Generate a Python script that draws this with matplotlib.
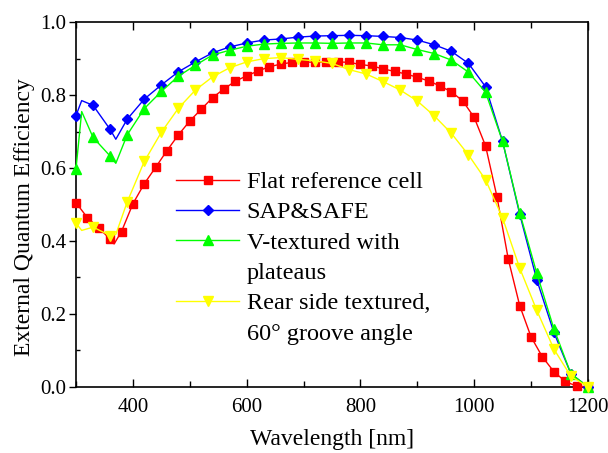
import numpy as np
import matplotlib
matplotlib.use("Agg")
import matplotlib.pyplot as plt
from matplotlib.lines import Line2D
from matplotlib.ticker import MultipleLocator, FormatStrFormatter

plt.rcParams['font.family'] = 'serif'
plt.rcParams['font.serif'] = ['Liberation Serif', 'Times New Roman', 'DejaVu Serif']

# flat reference cell (markers every 20 nm, one extra line point at the dip)
wl_red = [300, 320, 340, 360, 367, 380, 400, 420, 440, 460, 480, 500, 520, 540, 560,
          580, 600, 620, 640, 660, 680, 700, 720, 740, 760, 780, 800, 820, 840,
          860, 880, 900, 920, 940, 960, 980, 1000, 1020, 1040, 1060, 1080, 1100,
          1120, 1140, 1160, 1180, 1200]
eqe_red = [0.505, 0.464, 0.436, 0.405, 0.392, 0.426, 0.502, 0.557, 0.602, 0.648, 0.691,
           0.729, 0.761, 0.793, 0.817, 0.838, 0.853, 0.866, 0.878, 0.885, 0.890,
           0.891, 0.890, 0.891, 0.891, 0.890, 0.884, 0.880, 0.872, 0.865, 0.858,
           0.849, 0.839, 0.825, 0.809, 0.784, 0.739, 0.661, 0.522, 0.350, 0.223,
           0.137, 0.082, 0.042, 0.015, 0.002, 0.0]

# other three cells (markers every 30 nm, extra line points at 310 and 370 nm)
wl_30 = [300, 310, 330, 360, 370, 390, 420, 450, 480, 510, 540, 570, 600, 630, 660,
         690, 720, 750, 780, 810, 840, 870, 900, 930, 960, 990, 1020, 1050, 1080,
         1110, 1140, 1170, 1200]
eqe_blue = [0.744, 0.785, 0.772, 0.706, 0.679, 0.734, 0.789, 0.828, 0.864, 0.891,
            0.916, 0.932, 0.943, 0.951, 0.954, 0.959, 0.962, 0.963, 0.964, 0.963,
            0.961, 0.958, 0.951, 0.938, 0.920, 0.887, 0.823, 0.673, 0.474, 0.294,
            0.150, 0.036, 0.0]
eqe_green = [0.598, 0.755, 0.684, 0.633, 0.613, 0.691, 0.763, 0.810, 0.852, 0.882,
             0.910, 0.923, 0.934, 0.940, 0.942, 0.943, 0.943, 0.942, 0.943, 0.943,
             0.938, 0.938, 0.925, 0.914, 0.896, 0.863, 0.808, 0.673, 0.478, 0.312,
             0.160, 0.036, 0.0]
eqe_yellow = [0.449, 0.429, 0.438, 0.415, 0.418, 0.507, 0.618, 0.698, 0.764, 0.814,
              0.850, 0.875, 0.891, 0.900, 0.903, 0.898, 0.894, 0.887, 0.870, 0.858,
              0.837, 0.814, 0.784, 0.743, 0.695, 0.636, 0.568, 0.463, 0.326, 0.210,
              0.104, 0.029, 0.0]

labels = ["Flat reference cell", "SAP&SAFE", "V-textured with", "Rear side textured,"]
second_lines = ["plateaus", "60\u00b0 groove angle"]

mark_red = [i for i, w in enumerate(wl_red) if w % 20 == 0]
mark_30 = [i for i, w in enumerate(wl_30) if (w - 300) % 30 == 0]

styles = [('#ff0000', 's', 6), ('#0000ff', 'D', 5.5), ('#00ff00', '^', 6.5), ('#ffff00', 'v', 6.5)]
series = [(wl_red, eqe_red, mark_red), (wl_30, eqe_blue, mark_30),
          (wl_30, eqe_green, mark_30), (wl_30, eqe_yellow, mark_30)]

fig = plt.figure(figsize=(6.08, 4.53), dpi=100)
ax = fig.add_axes([0.125, 0.146, 0.842, 0.805])

proxies = []
for (x, y, me), (c, m, ms) in zip(series, styles):
    ax.plot(x, y, color=c, marker=m, ms=ms, markevery=me, lw=1.0, clip_on=False, zorder=3)
    proxies.append(Line2D([], [], color=c, marker=m, ms=ms, lw=1.0))

# blank handles give the second line of the two long labels its own row
blank = Line2D([], [], lw=0, marker=None)
handles = [proxies[0], proxies[1], proxies[2], blank, proxies[3], blank]
texts = [labels[0], labels[1], labels[2], second_lines[0], labels[3], second_lines[1]]
ax.legend(handles, texts, loc='upper left', bbox_to_anchor=(0.172, 0.625),
          frameon=False, fontsize=17.5, handlelength=2.6, handletextpad=0.3,
          labelspacing=0.34, borderpad=0, numpoints=1)

ax.set_xlim(300, 1200)
ax.set_ylim(0, 1.0)
ax.xaxis.set_major_locator(MultipleLocator(200))
ax.xaxis.set_minor_locator(MultipleLocator(100))
ax.yaxis.set_major_locator(MultipleLocator(0.2))
ax.yaxis.set_minor_locator(MultipleLocator(0.1))
ax.yaxis.set_major_formatter(FormatStrFormatter('%.1f'))

ax.tick_params(axis='x', which='major', direction='in', length=6, width=1,
               top=True, labelsize=15, pad=8)
ax.tick_params(axis='x', which='minor', direction='in', length=4, width=1, top=True)
ax.tick_params(axis='y', which='major', direction='out', length=5, width=1,
               labelsize=15, pad=2)
ax.tick_params(axis='y', which='minor', direction='in', length=3, width=1)
for sp in ax.spines.values():
    sp.set_linewidth(1.2)

ax.set_xlabel("Wavelength [nm]", fontsize=17, labelpad=9)
ax.set_ylabel("External Quantum Efficiency", fontsize=17, labelpad=4, y=0.465)

fig.savefig("out.png", dpi=100)
